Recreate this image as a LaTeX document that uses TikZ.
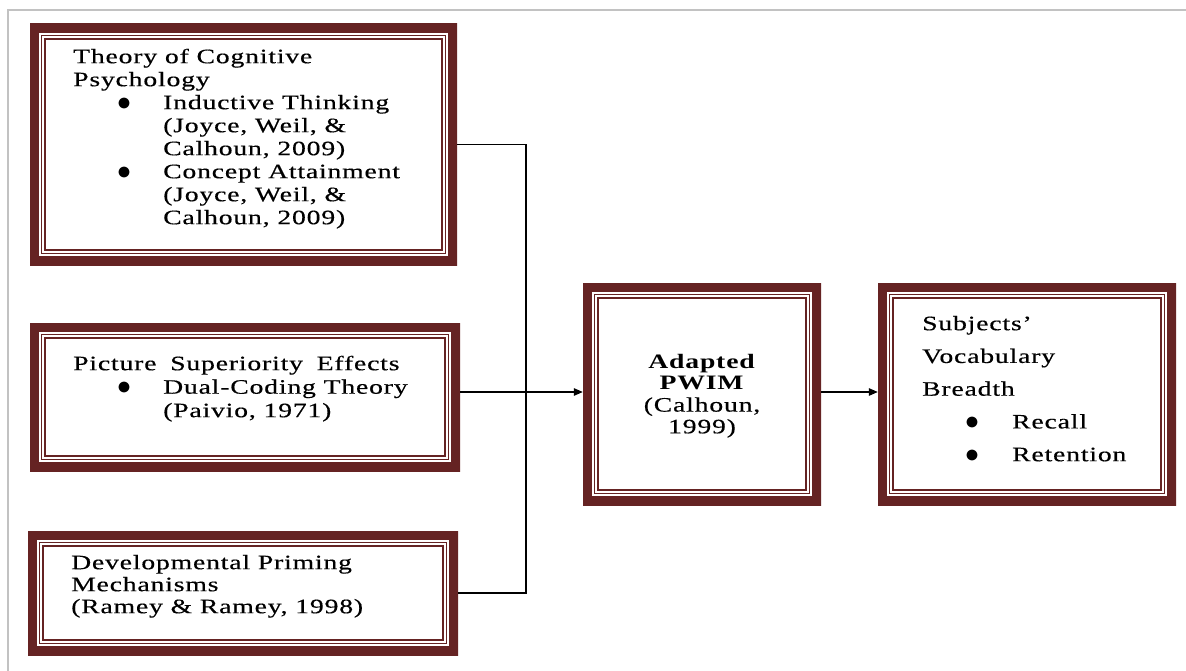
\documentclass[tikz,border=0pt]{standalone}
\usepackage{fontspec}
\setmainfont{Liberation Serif}[FakeStretch=1.35, LetterSpace=4, UprightFeatures={FakeBold=0.4}]
\usetikzlibrary{arrows.meta}
\definecolor{brd}{HTML}{652323}
\definecolor{frm}{HTML}{C2C2C2}
\tikzset{
  dbox/.style={rectangle, inner sep=0pt, draw=none,
    path picture={
      \draw[brd, line width=18pt] (path picture bounding box.south west) rectangle (path picture bounding box.north east);
      \draw[brd, line width=1.3pt] ([shift={(11.6pt,11.6pt)}]path picture bounding box.south west) rectangle ([shift={(-11.6pt,-11.6pt)}]path picture bounding box.north east);
      \draw[brd, line width=1.3pt] ([shift={(14.9pt,14.9pt)}]path picture bounding box.south west) rectangle ([shift={(-14.9pt,-14.9pt)}]path picture bounding box.north east);
    }},
  txt/.style={anchor=north west, inner sep=0pt, align=left},
  conn/.style={line width=1.3pt, black},
  arr/.style={conn, -{Triangle[length=9pt,width=7.5pt]}}
}
\newcommand{\bul}[2]{\hspace*{#1pt}\makebox[#2pt][l]{\raisebox{-1pt}{\scalebox{1.35}{$\bullet$}}}}
\newcommand{\ind}[1]{\hspace*{#1pt}}
\begin{document}
\begin{tikzpicture}[x=1pt,y=-1pt]
\useasboundingbox (0,0) rectangle (1186,671);
\draw[frm, line width=2pt] (8,671) -- (8,10) -- (1186,10);

\node[dbox, minimum width=427pt, minimum height=241pt] (b1) at (243.5,144.5) {};
\node[dbox, minimum width=430pt, minimum height=148pt] (b2) at (245,397) {};
\node[dbox, minimum width=430pt, minimum height=124pt] (b3) at (243,593) {};
\node[dbox, minimum width=238pt, minimum height=222pt] (b4) at (702,394) {};
\node[dbox, minimum width=298pt, minimum height=222pt] (b5) at (1027,394) {};

\node[txt, font=\fontsize{20.5}{23}\selectfont] (t1) at (73,48)
  {\rule{0pt}{15pt}Theory of Cognitive\\
   Psychology\\
   \bul{44}{46}Inductive Thinking\\
   \ind{90}(Joyce, Weil, \&\\
   \ind{90}Calhoun, 2009)\\
   \bul{44}{46}Concept Attainment\\
   \ind{90}(Joyce, Weil, \&\\
   \ind{90}Calhoun, 2009)};

\node[txt, font=\fontsize{20.5}{23.5}\selectfont] (t2) at (73,355)
  {\rule{0pt}{15pt}Picture\hspace{6pt} Superiority\hspace{6pt} Effects\\
   \bul{44}{46}Dual-Coding Theory\\
   \ind{90}(Paivio, 1971)};

\node[txt, font=\fontsize{20.5}{22}\selectfont] (t3) at (71,554)
  {\rule{0pt}{15pt}Developmental Priming\\
   Mechanisms\\
   (Ramey \& Ramey, 1998)};

\node[anchor=north, inner sep=0pt, align=center, font=\fontsize{20.5}{21.7}\selectfont] (t4) at (702,353)
  {\rule{0pt}{15pt}\textbf{Adapted}\\
   \textbf{PWIM}\\
   (Calhoun,\\
   1999)};

\node[txt, font=\fontsize{20.5}{32.75}\selectfont] (t5) at (922,315)
  {\rule{0pt}{15pt}Subjects’\\
   Vocabulary\\
   Breadth\\
   \bul{43}{47}Recall\\
   \bul{43}{47}Retention};

\coordinate (jx) at (526,392);
\draw[conn] (b1.east) -| (jx) |- (b3.east);
\draw[conn] (b2.east |- jx) -- (jx);
\draw[arr] (jx) -- (b4.west |- jx);
\draw[arr] (b4.east |- jx) -- (b5.west |- jx);
\end{tikzpicture}
\end{document}
